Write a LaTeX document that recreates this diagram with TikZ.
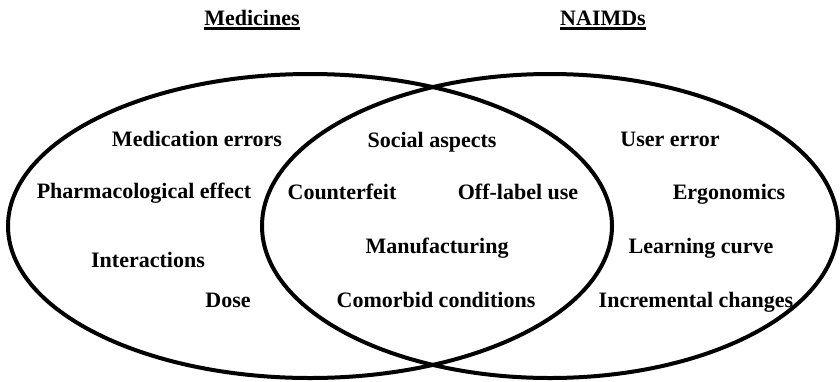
\documentclass[tikz,border=0pt]{standalone}
\usepackage{fontspec}
\setmainfont{Liberation Serif}
\begin{document}
\begin{tikzpicture}[x=1pt,y=-1pt,
  lbl/.style={font=\fontsize{22}{26}\selectfont\bfseries, inner sep=0pt, anchor=base},
  ring/.style={draw=black, line width=4pt},
  uline/.style={line width=2.6pt}]
\useasboundingbox (0,0) rectangle (840,381);
% sets
\draw[ring] (310,226) ellipse [x radius=302, y radius=152];
\draw[ring] (550,226) ellipse [x radius=288, y radius=152];
% titles
\node[lbl] (tmed) at (252,25) {Medicines};
\node[lbl] (tnai) at (603,25) {NAIMDs};
\draw[uline] ([yshift=-3.5pt]tmed.base west) -- ([yshift=-3.5pt]tmed.base east);
\draw[uline] ([yshift=-3.5pt]tnai.base west) -- ([yshift=-3.5pt]tnai.base east);
% medicines only
\node[lbl] (m1) at (197,146) {Medication errors};
\node[lbl] (m2) at (144,198) {Pharmacological effect};
\node[lbl] (m3) at (148,267) {Interactions};
\node[lbl] (m4) at (228,307) {Dose};
% overlap
\node[lbl] (o1) at (432,147) {Social aspects};
\node[lbl] (o2) at (342,199) {Counterfeit};
\node[lbl] (o3) at (518,199) {Off-label use};
\node[lbl] (o4) at (437,253) {Manufacturing};
\node[lbl] (o5) at (436,307) {Comorbid conditions};
% NAIMDs only
\node[lbl] (n1) at (670,146) {User error};
\node[lbl] (n2) at (729,199) {Ergonomics};
\node[lbl] (n3) at (701,253) {Learning curve};
\node[lbl] (n4) at (696,307) {Incremental changes};
\end{tikzpicture}
\end{document}
